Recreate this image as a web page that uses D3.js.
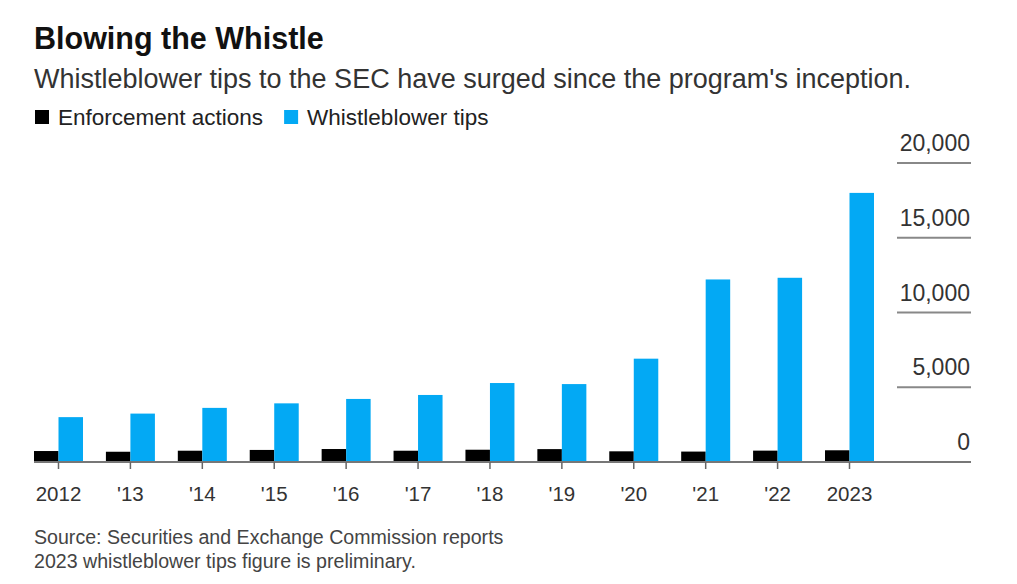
<!DOCTYPE html>
<html lang="en">
<head>
<meta charset="utf-8">
<style>
html, body {
    margin: 0;
    padding: 0;
    background: #fff;
}
svg text {
    font-family: "Liberation Sans", Arial, sans-serif;
}
</style>
</head>
<body>
<svg id="chart" width="1017" height="584"></svg>

<script src="https://cdn.jsdelivr.net/npm/d3@7/dist/d3.min.js"></script>
<script>

var years = ["2012","2013","2014","2015","2016","2017","2018","2019","2020","2021","2022","2023"];
var yearLabels = ["2012","'13","'14","'15","'16","'17","'18","'19","'20","'21","'22","2023"];
var enforcement = [734, 686, 755, 807, 868, 754, 821, 862, 715, 697, 760, 784];
var tips = [3001, 3238, 3620, 3923, 4218, 4484, 5282, 5212, 6911, 12210, 12322, 18000];
var yTicks = [0, 5000, 10000, 15000, 20000];

var series = [
    {key: "Enforcement actions", values: enforcement, color: "#000000"},
    {key: "Whistleblower tips", values: tips, color: "#03a9f4"}
];

var svg = d3.select("#chart");

// titles
svg.append("text")
    .attr("x", 34).attr("y", 49)
    .style("font-size", "30.5px").style("font-weight", "bold").attr("fill", "#111")
    .text("Blowing the Whistle");

svg.append("text")
    .attr("x", 34).attr("y", 88)
    .style("font-size", "27px").attr("fill", "#333")
    .text("Whistleblower tips to the SEC have surged since the program's inception.");

// legend
var lx = 35;
series.forEach(function(s){
    svg.append("rect")
        .attr("x", lx).attr("y", 110).attr("width", 14).attr("height", 14)
        .attr("fill", s.color);
    var t = svg.append("text")
        .attr("x", lx + 23).attr("y", 125)
        .style("font-size", "22.5px").attr("fill", "#222")
        .text(s.key);
    lx += 23 + t.node().getComputedTextLength() + 21;
});

// scales
var x = d3.scalePoint().domain(years).range([58, 849]);
var xSub = d3.scaleBand().domain([0, 1]).range([-24, 25]).padding(0);
var y = d3.scaleLinear().domain([0, 20000]).range([462, 163]);

// gridlines + y labels on the right
var grid = svg.append("g");
grid.selectAll("line")
    .data(yTicks.filter(function(d){ return d > 0; }))
    .enter().append("line")
    .attr("x1", 897).attr("x2", 971)
    .attr("y1", function(d){ return y(d); })
    .attr("y2", function(d){ return y(d); })
    .attr("stroke", "#888").attr("stroke-width", 2);

grid.selectAll("text")
    .data(yTicks)
    .enter().append("text")
    .attr("x", 970)
    .attr("y", function(d){ return y(d) - 12; })
    .attr("text-anchor", "end")
    .style("font-size", "23px").attr("fill", "#333")
    .text(function(d){ return d3.format(",")(d); });

// bars
var groups = svg.append("g").selectAll("g")
    .data(years)
    .enter().append("g")
    .attr("transform", function(d){ return "translate(" + x(d) + ",0)"; });

groups.selectAll("rect")
    .data(function(d, i){ return series.map(function(s, j){ return {j: j, v: s.values[i], c: s.color}; }); })
    .enter().append("rect")
    .attr("x", function(d){ return xSub(d.j); })
    .attr("width", xSub.bandwidth())
    .attr("y", function(d){ return y(d.v); })
    .attr("height", function(d){ return y(0) - y(d.v); })
    .attr("fill", function(d){ return d.c; });

// baseline + x axis
svg.append("line")
    .attr("x1", 34).attr("x2", 971)
    .attr("y1", y(0)).attr("y2", y(0))
    .attr("stroke", "#777").attr("stroke-width", 2);

var xAxis = d3.axisBottom(x)
    .tickSize(7)
    .tickFormat(function(d, i){ return yearLabels[i]; });

var xg = svg.append("g")
    .attr("transform", "translate(0," + y(0) + ")")
    .call(xAxis);
xg.select(".domain").remove();
xg.selectAll(".tick line").attr("stroke", "#666").attr("stroke-width", 1.5);
xg.selectAll(".tick text")
    .attr("y", 24)
    .style("font-size", "20.5px")
    .style("font-family", "'Liberation Sans', Arial, sans-serif")
    .attr("fill", "#333");

// footnotes
svg.append("text")
    .attr("x", 34).attr("y", 544)
    .style("font-size", "19.6px").attr("fill", "#444")
    .text("Source: Securities and Exchange Commission reports");
svg.append("text")
    .attr("x", 34).attr("y", 568)
    .style("font-size", "19.6px").attr("fill", "#444")
    .text("2023 whistleblower tips figure is preliminary.");

</script>
</body>
</html>
